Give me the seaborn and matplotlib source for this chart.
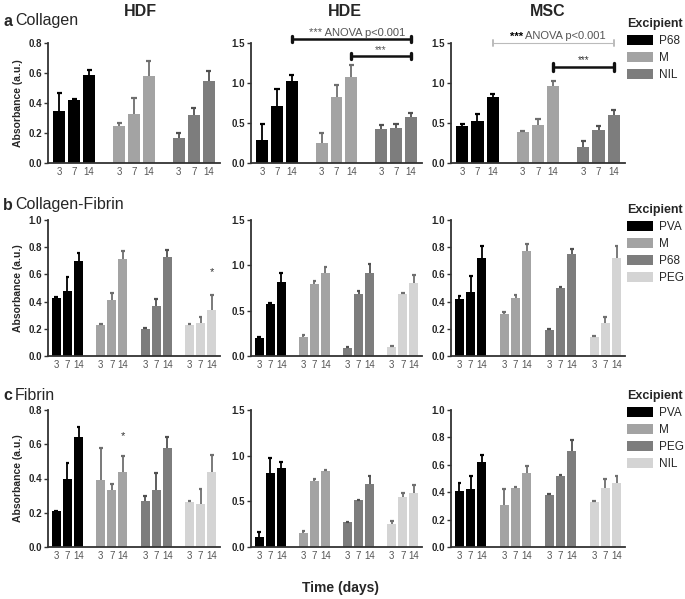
import numpy as np
import pandas as pd
import matplotlib
matplotlib.use("Agg")
import matplotlib.pyplot as plt
import seaborn as sns

sns.set_theme(style="ticks")
plt.rcParams['font.family'] = ['Liberation Sans', 'DejaVu Sans']

days = ["3", "7", "14"]
cells = ["HDF", "HDE", "MSC"]

# Row a: Collagen
a_groups = ["P68", "M", "NIL"]
a_HDF_mean = [[0.35, 0.42, 0.59], [0.25, 0.33, 0.58], [0.17, 0.32, 0.55]]
a_HDF_sd = [[0.12, 0.01, 0.03], [0.02, 0.10, 0.10], [0.03, 0.05, 0.06]]
a_HDE_mean = [[0.29, 0.71, 1.03], [0.25, 0.82, 1.08], [0.43, 0.44, 0.58]]
a_HDE_sd = [[0.20, 0.22, 0.07], [0.12, 0.15, 0.15], [0.04, 0.05, 0.05]]
a_MSC_mean = [[0.46, 0.52, 0.82], [0.39, 0.47, 0.96], [0.20, 0.41, 0.60]]
a_MSC_sd = [[0.03, 0.09, 0.04], [0.01, 0.08, 0.06], [0.07, 0.05, 0.06]]

# Row b: Collagen-Fibrin
b_groups = ["PVA", "M", "P68", "PEG"]
b_HDF_mean = [[0.43, 0.48, 0.70], [0.23, 0.41, 0.71], [0.20, 0.37, 0.73], [0.23, 0.24, 0.34]]
b_HDF_sd = [[0.005, 0.10, 0.06], [0.005, 0.05, 0.06], [0.005, 0.05, 0.05], [0.005, 0.05, 0.11]]
b_HDE_mean = [[0.20, 0.57, 0.82], [0.21, 0.79, 0.92], [0.09, 0.68, 0.91], [0.10, 0.68, 0.81]]
b_HDE_sd = [[0.01, 0.02, 0.10], [0.02, 0.04, 0.06], [0.005, 0.04, 0.10], [0.005, 0.02, 0.08]]
b_MSC_mean = [[0.42, 0.47, 0.72], [0.31, 0.43, 0.77], [0.19, 0.50, 0.75], [0.14, 0.24, 0.72]]
b_MSC_sd = [[0.02, 0.12, 0.09], [0.01, 0.02, 0.05], [0.005, 0.005, 0.04], [0.005, 0.05, 0.09]]

# Row c: Fibrin
c_groups = ["PVA", "M", "PEG", "NIL"]
c_HDF_mean = [[0.21, 0.40, 0.64], [0.39, 0.33, 0.44], [0.27, 0.33, 0.58], [0.26, 0.25, 0.44]]
c_HDF_sd = [[0.003, 0.09, 0.06], [0.19, 0.04, 0.09], [0.03, 0.10, 0.06], [0.01, 0.09, 0.10]]
c_HDE_mean = [[0.11, 0.81, 0.87], [0.15, 0.72, 0.83], [0.27, 0.51, 0.69], [0.25, 0.55, 0.59]]
c_HDE_sd = [[0.05, 0.16, 0.06], [0.03, 0.03, 0.01], [0.005, 0.005, 0.09], [0.04, 0.04, 0.09]]
c_MSC_mean = [[0.41, 0.42, 0.62], [0.31, 0.43, 0.54], [0.38, 0.52, 0.70], [0.33, 0.43, 0.47]]
c_MSC_sd = [[0.06, 0.10, 0.05], [0.11, 0.01, 0.05], [0.01, 0.005, 0.08], [0.005, 0.07, 0.05]]

a_colors = ["#000000", "#a3a3a3", "#7d7d7d"]
b_colors = ["#000000", "#a3a3a3", "#7d7d7d", "#d4d4d4"]
c_colors = ["#000000", "#a3a3a3", "#7d7d7d", "#d4d4d4"]
err_map = {"#000000": "#000000", "#a3a3a3": "#6e6e6e", "#7d7d7d": "#505050", "#d4d4d4": "#707070"}

W, H = 685, 599
fig = plt.figure(figsize=(W / 100, H / 100), dpi=100)

col_px = [(48, 220), (251, 422), (451, 625)]
row_px = [(43, 163), (220, 356), (410, 547)]

rows = [
    dict(groups=a_groups, colors=a_colors,
         data=[(a_HDF_mean, a_HDF_sd), (a_HDE_mean, a_HDE_sd), (a_MSC_mean, a_MSC_sd)],
         ylims=[0.8, 1.5, 1.5], ysteps=[0.2, 0.5, 0.5]),
    dict(groups=b_groups, colors=b_colors,
         data=[(b_HDF_mean, b_HDF_sd), (b_HDE_mean, b_HDE_sd), (b_MSC_mean, b_MSC_sd)],
         ylims=[1.0, 1.5, 1.0], ysteps=[0.2, 0.5, 0.2]),
    dict(groups=c_groups, colors=c_colors,
         data=[(c_HDF_mean, c_HDF_sd), (c_HDE_mean, c_HDE_sd), (c_MSC_mean, c_MSC_sd)],
         ylims=[0.8, 1.5, 1.0], ysteps=[0.2, 0.5, 0.2]),
]

axes = {}
for ri, row in enumerate(rows):
    groups = row["groups"]
    ng = len(groups)
    order = []
    for gi, g in enumerate(groups):
        for d in days:
            order.append(f"{g}_{d}")
        if gi < ng - 1:
            order.append(f"gap{gi}")
    for ci in range(3):
        l, r = col_px[ci]
        t, b = row_px[ri]
        ax = fig.add_axes([l / W, 1 - b / H, (r - l) / W, (b - t) / H])
        axes[(ri, ci)] = ax
        means, sds = row["data"][ci]
        recs = []
        for gi, g in enumerate(groups):
            for di, d in enumerate(days):
                recs.append(dict(slot=f"{g}_{d}", group=g, day=d,
                                 mean=means[gi][di], sd=sds[gi][di]))
        df = pd.DataFrame(recs)
        sns.barplot(data=df, x="slot", y="mean", hue="group", order=order,
                    hue_order=groups, palette=row["colors"], dodge=False,
                    errorbar=None, width=0.8, linewidth=0, ax=ax,
                    legend=(ci == 2))
        # one-sided error bars
        for _, rec in df.iterrows():
            xpos = order.index(rec["slot"])
            col = err_map[row["colors"][groups.index(rec["group"])]]
            ax.vlines(xpos, rec["mean"], rec["mean"] + rec["sd"], color=col, lw=1.3, zorder=3)
            ax.plot([xpos - 0.17, xpos + 0.17], [rec["mean"] + rec["sd"]] * 2,
                    color=col, lw=1.6, solid_capstyle="butt", zorder=3)
        xt = [order.index(f"{g}_{d}") for g in groups for d in days]
        ax.set_xticks(xt)
        ax.set_xticklabels(days * ng, fontsize=7, color="#555555")
        ax.tick_params(axis="x", length=0, pad=3)
        ax.set_xlim(-0.75, len(order) - 0.25)
        ymax = row["ylims"][ci]
        ax.set_ylim(0, ymax)
        yt = np.round(np.arange(0, ymax + 1e-9, row["ysteps"][ci]), 2)
        ax.set_yticks(yt)
        ax.set_yticklabels([f"{v:.1f}" for v in yt], fontsize=7, fontweight="bold")
        ax.tick_params(axis="y", length=3, width=1, pad=1.5, color="#333333")
        ax.set_xlabel("")
        ax.set_ylabel("Absorbance (a.u.)" if ci == 0 else "", fontsize=7.5,
                      fontweight="bold", labelpad=4)
        for s in ["top", "right"]:
            ax.spines[s].set_visible(False)
        for s in ["left", "bottom"]:
            ax.spines[s].set_linewidth(1.3)
            ax.spines[s].set_color("#333333")
        if ci == 2:
            handles, labels = ax.get_legend_handles_labels()
            if ax.get_legend() is not None:
                ax.get_legend().remove()
            top_px = [18, 204, 390][ri]
            leg = ax.legend(handles, labels, loc="upper left",
                            bbox_to_anchor=(627 / W, 1 - top_px / H),
                            bbox_transform=fig.transFigure, frameon=False,
                            title="Excipient", fontsize=8.5,
                            handlelength=2.2, handleheight=1.0,
                            labelspacing=0.4, handletextpad=0.5,
                            borderaxespad=0, borderpad=0)
            leg.get_title().set_fontweight("bold")
            leg.get_title().set_fontsize(9)
            leg._legend_box.align = "left"
            for h in leg.legend_handles:
                pass

# Column titles
for ci, (name, xc) in enumerate(zip(cells, [140, 345, 548])):
    fig.text(xc / W, 1 - 12 / H, name, ha="center", va="center",
             fontsize=11.5, fontweight="bold")

# Row labels
for lab, txt, yc in [("a", "Collagen", 21), ("b", "Collagen-Fibrin", 205), ("c", "Fibrin", 396)]:
    fig.text(3 / W, 1 - yc / H, lab, ha="left", va="center", fontsize=11.5, fontweight="bold")
    fig.text(15 / W, 1 - yc / H, txt, ha="left", va="center", fontsize=11.5)

fig.text(341 / W, 1 - 588 / H, "Time (days)", ha="center", va="center",
         fontsize=10, fontweight="bold")

# Significance annotations, row a
def bracket(ax, x1, x2, y, color, lw, h):
    ax.plot([x1, x2], [y, y], color=color, lw=lw, clip_on=False, zorder=5)
    ax.plot([x1, x1], [y - h, y + h], color=color, lw=lw + 0.6, clip_on=False, zorder=5)
    ax.plot([x2, x2], [y - h, y + h], color=color, lw=lw + 0.6, clip_on=False, zorder=5)

ax = axes[(0, 1)]
bracket(ax, 2, 10, 1.55, "#111111", 1.8, 0.04)
ax.text(6.4, 1.56, "*** ANOVA p<0.001", ha="center", va="bottom", fontsize=8, color="#555555", clip_on=False)
bracket(ax, 6, 10, 1.34, "#111111", 1.8, 0.04)
ax.text(8, 1.35, "***", ha="center", va="bottom", fontsize=7, color="#555555")

ax = axes[(0, 2)]
bracket(ax, 2, 10, 1.50, "#bbbbbb", 0.8, 0.04)
ax.text(3.6, 1.52, "***", ha="center", va="bottom", fontsize=8, fontweight="bold", color="#000000", clip_on=False)
ax.text(6.8, 1.52, "ANOVA p<0.001", ha="center", va="bottom", fontsize=8, color="#555555", clip_on=False)
bracket(ax, 6, 10, 1.20, "#111111", 1.8, 0.05)
ax.text(8, 1.22, "***", ha="center", va="bottom", fontsize=7, color="#333333")

# Single-star marks
axes[(1, 0)].text(14, 0.58, "*", ha="center", va="bottom", fontsize=8, color="#333333")
axes[(2, 0)].text(6, 0.62, "*", ha="center", va="bottom", fontsize=8, color="#333333")

fig.savefig("out.png", dpi=100)
